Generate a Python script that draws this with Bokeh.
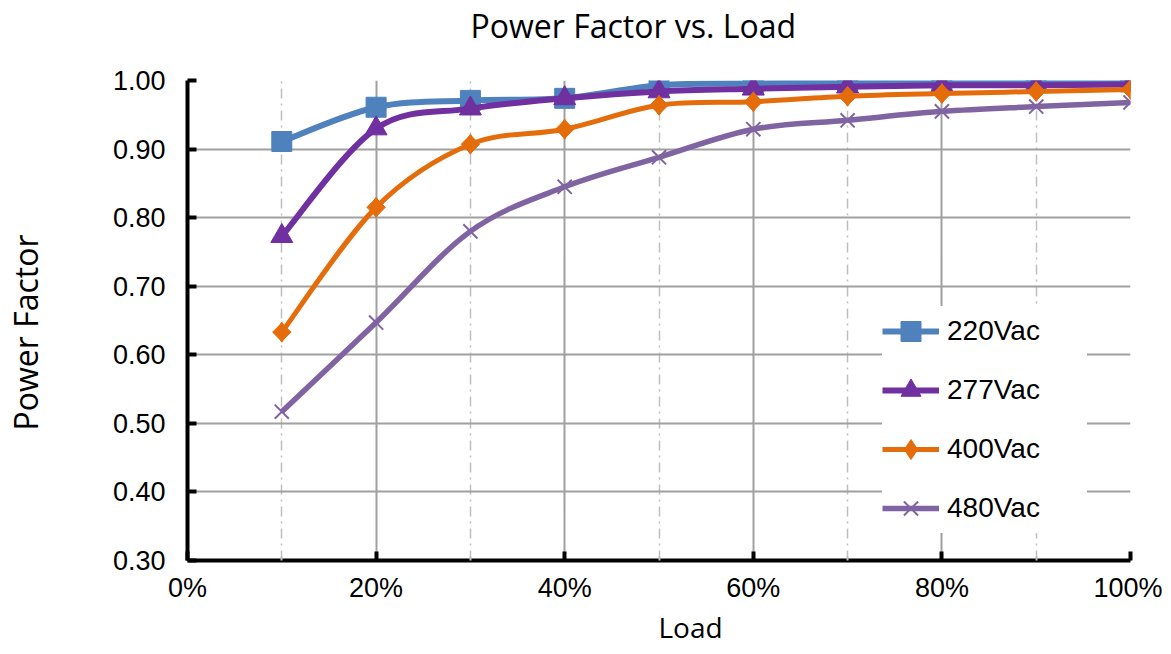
import numpy as np
from bokeh.plotting import figure
from bokeh.models import (Range1d, FixedTicker, NumeralTickFormatter, Title,
                          Legend, LegendItem, ColumnDataSource, LinearAxis)
from bokeh.embed import file_html
from bokeh.resources import INLINE

# ---- data ----
load = [0.1, 0.2, 0.3, 0.4, 0.5, 0.6, 0.7, 0.8, 0.9, 1.0]
pf_220 = [0.911, 0.961, 0.971, 0.974, 0.993, 0.996, 0.997, 0.998, 0.998, 0.998]
pf_277 = [0.773, 0.930, 0.959, 0.974, 0.984, 0.988, 0.991, 0.993, 0.993, 0.994]
pf_400 = [0.633, 0.815, 0.907, 0.929, 0.964, 0.969, 0.977, 0.981, 0.984, 0.987]
pf_480 = [0.517, 0.647, 0.780, 0.845, 0.888, 0.929, 0.942, 0.955, 0.962, 0.968]
series_names = ["220Vac", "277Vac", "400Vac", "480Vac"]
x_ticks = [0.0, 0.2, 0.4, 0.6, 0.8, 1.0]
x_minor = [0.1, 0.3, 0.5, 0.7, 0.9]
y_ticks = [0.3, 0.4, 0.5, 0.6, 0.7, 0.8, 0.9, 1.0]

colors = ["#4F81BD", "#7030A0", "#E46C0A", "#8064A2"]
widths = [6, 6, 5, 5.5]

W, H = 1162, 646
p = figure(width=W, height=H, output_backend="svg", toolbar_location=None,
           x_range=Range1d(0, 1), y_range=Range1d(0.3, 1.0),
           min_border_left=187, min_border_right=W - 1130, min_border_top=80,
           min_border_bottom=H - 560)
p.title.text = ""
p.outline_line_color = None
p.background_fill_color = "white"

TICK_FONT = "Liberation Sans"
LABEL_FONT = "Open Sans"

# axes
for ax in (p.xaxis[0], p.yaxis[0]):
    ax.axis_line_color = "black"
    ax.axis_line_width = 4
    ax.major_tick_line_color = "black"
    ax.major_tick_line_width = 4
    ax.major_tick_out = 0
    ax.major_tick_in = 9
    ax.major_label_text_font = TICK_FONT
    ax.major_label_text_font_size = "27px"
    ax.major_label_text_color = "black"

p.xaxis.ticker = FixedTicker(ticks=x_ticks, minor_ticks=x_minor)
p.xaxis.formatter = NumeralTickFormatter(format="0%")
p.xaxis.minor_tick_line_color = "#BFBFBF"
p.xaxis.minor_tick_line_width = 2
p.xaxis.minor_tick_in = 4
p.xaxis.minor_tick_out = 0
p.xaxis.major_label_standoff = 12

p.yaxis.ticker = FixedTicker(ticks=y_ticks)
p.yaxis.formatter = NumeralTickFormatter(format="0.00")
p.yaxis.minor_tick_line_color = None
p.yaxis.major_label_standoff = 22

# grids
p.xgrid.ticker = FixedTicker(ticks=x_ticks, minor_ticks=x_minor)
p.xgrid.grid_line_color = "#A0A0A0"
p.xgrid.grid_line_width = 2
p.xgrid.minor_grid_line_color = "#BFBFBF"
p.xgrid.minor_grid_line_width = 1.5
p.xgrid.minor_grid_line_dash = "10 5 2 5"
p.ygrid.ticker = FixedTicker(ticks=y_ticks)
p.ygrid.grid_line_color = "#A0A0A0"
p.ygrid.grid_line_width = 2


def smooth_controls(xs, ys):
    xs = np.asarray(xs, float)
    ys = np.asarray(ys, float)
    n = len(xs)
    px = np.concatenate([[xs[0]], xs, [xs[-1]]])
    py = np.concatenate([[ys[0]], ys, [ys[-1]]])
    out = {k: [] for k in ("x0", "y0", "x1", "y1", "cx0", "cy0", "cx1", "cy1")}
    for i in range(n - 1):
        a, b, c, d = i, i + 1, i + 2, i + 3
        out["x0"].append(px[b]); out["y0"].append(py[b])
        out["x1"].append(px[c]); out["y1"].append(py[c])
        out["cx0"].append(px[b] + (px[c] - px[a]) / 6.0)
        out["cy0"].append(py[b] + (py[c] - py[a]) / 6.0)
        out["cx1"].append(px[c] - (px[d] - px[b]) / 6.0)
        out["cy1"].append(py[c] - (py[d] - py[b]) / 6.0)
    return out


all_series = [pf_220, pf_277, pf_400, pf_480]
items = []
for k, ys in enumerate(all_series):
    src = ColumnDataSource(smooth_controls(load, ys))
    ln = p.bezier(x0="x0", y0="y0", x1="x1", y1="y1", cx0="cx0", cy0="cy0",
                  cx1="cx1", cy1="cy1", source=src, line_color=colors[k],
                  line_width=widths[k])
    if k == 0:
        mk = p.scatter(load, ys, marker="square", size=20, fill_color=colors[k],
                       line_color=colors[k])
    elif k == 1:
        mk = p.scatter(load, ys, marker="triangle", size=22, fill_color=colors[k],
                       line_color=colors[k])
    elif k == 2:
        mk = p.scatter(load, ys, marker="diamond", size=20, fill_color=colors[k],
                       line_color=colors[k])
        p.scatter(load, ys, marker="square", angle=np.pi / 4, size=13,
                  fill_color=colors[k], line_color=colors[k])
    else:
        mk = p.scatter(load, ys, marker="x", size=20, line_color=colors[k],
                       line_width=2)
    items.append(LegendItem(label=series_names[k], renderers=[ln, mk]))

legend = Legend(items=items, location=(695, 27), orientation="vertical",
                glyph_width=57, glyph_height=50, label_height=50,
                label_standoff=8, spacing=9, padding=14, label_width=140,
                label_text_font=TICK_FONT, label_text_font_size="28px",
                label_text_color="black", border_line_color=None,
                background_fill_color="white", background_fill_alpha=1.0)
p.add_layout(legend, "center")


def spacer(size, tick_at):
    return LinearAxis(ticker=FixedTicker(ticks=[tick_at], minor_ticks=[]),
                      axis_line_color=None,
                      major_tick_line_color="white", major_tick_line_width=1,
                      minor_tick_line_color=None,
                      major_tick_out=size, major_tick_in=0, minor_tick_out=0,
                      minor_tick_in=0, major_label_text_color=None,
                      major_label_standoff=0)


# top: spacer (nearest the frame) then title (outermost)
p.add_layout(spacer(34, 0.05), "above")
p.add_layout(Title(text="Power Factor vs. Load", align="left", offset=283,
                   vertical_align="bottom", standoff=0,
                   text_font=LABEL_FONT, text_font_size="32px",
                   text_font_style="normal", text_color="black"), "above")
# bottom: x axis then Load title
p.add_layout(Title(text="Load", align="left", offset=471,
                   vertical_align="bottom", standoff=0,
                   text_font=LABEL_FONT, text_font_size="28px",
                   text_font_style="normal", text_color="black"), "below")
# left: y axis, spacer, then Power Factor title
p.add_layout(spacer(63, 0.35), "left")
p.add_layout(Title(text="Power Factor", align="left", offset=130,
                   vertical_align="bottom", standoff=0,
                   text_font=LABEL_FONT, text_font_size="32px",
                   text_font_style="normal", text_color="black"), "left")

open("out.html", "w").write(file_html(p, INLINE))
